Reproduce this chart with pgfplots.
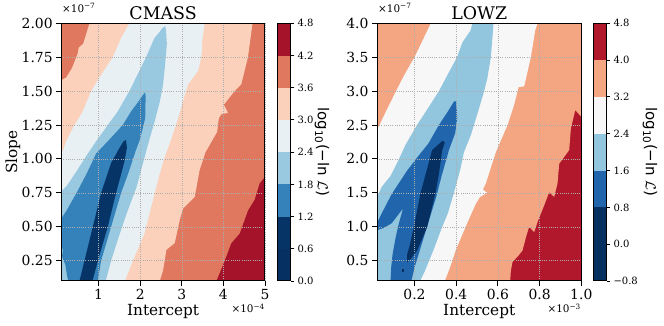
\documentclass[border=0pt]{standalone}
\usepackage{fontspec}
\setmainfont{DejaVu Serif}
\setsansfont{DejaVu Sans}
\usepackage{pgfplots}
\pgfplotsset{compat=1.18}

% CMASS bands (0.6 steps)
\definecolor{cA0}{RGB}{5,48,97}
\definecolor{cA1}{RGB}{7,52,103}
\definecolor{cA2}{RGB}{53,129,186}
\definecolor{cA3}{RGB}{153,201,224}
\definecolor{cA4}{RGB}{233,240,244}
\definecolor{cA5}{RGB}{251,209,188}
\definecolor{cA6}{RGB}{224,119,95}
\definecolor{cA7}{RGB}{164,19,41}
% LOWZ bands (0.8 steps)
\definecolor{cB0}{RGB}{5,48,97}
\definecolor{cB2}{RGB}{33,102,172}
\definecolor{cB3}{RGB}{146,197,222}
\definecolor{cB4}{RGB}{247,247,247}
\definecolor{cB5}{RGB}{244,165,130}
\definecolor{cB6}{RGB}{178,24,43}

\pgfplotsset{
  main/.style={
    scale only axis, axis on top,
    height=257.7pt,
    axis line style={line width=1pt},
    tick style={black, line width=0.9pt},
    tick align=outside, major tick length=5pt,
    tick pos=left,
    tick label style={font=\fontsize{13.9}{14}\selectfont},
    grid=major,
    grid style={black!32, line width=0.45pt, dash pattern=on 1pt off 1.2pt},
  },
  cbar/.style={
    scale only axis, axis on top,
    height=257.7pt,
    xmin=0, xmax=1, xtick=\empty,
    ytick pos=right, yticklabel pos=right,
    axis line style={line width=1pt},
    tick style={black, line width=0.9pt},
    tick align=outside, major tick length=3.5pt,
    tick label style={font=\fontsize{10}{10}\selectfont},
  },
  band/.style={fill=#1, draw=none},
}

\begin{document}
\begin{tikzpicture}
\useasboundingbox (0,0) rectangle (664pt,326pt);

% ---------------- CMASS ----------------
\begin{axis}[main, at={(61.2pt,45pt)}, anchor=south west, width=203.8pt,
  xmin=0.1, xmax=5, ymin=0.1, ymax=2,
  xtick={1,2,3,4,5}, xticklabels={1,2,3,4,5},
  ytick={0.25,0.5,0.75,1,1.25,1.5,1.75,2},
  yticklabels={0.25,0.50,0.75,1.00,1.25,1.50,1.75,2.00}]
\addplot[band=cA7] coordinates {(0.1,0.1) (5,0.1) (5,2) (0.1,2)} -- cycle;
\addplot[band=cA6] coordinates {(0.1,0.1) (3.83,0.1) (4.03,0.25) (4.19,0.38) (4.39,0.45)
  (4.59,0.62) (4.75,0.70) (4.87,0.82) (5,0.87) (5,2) (0.1,2)} -- cycle;
\addplot[band=cA5] coordinates {(0.1,0.1) (2.47,0.1) (2.55,0.18) (2.63,0.33) (2.83,0.38)
  (2.95,0.55) (3.03,0.635) (3.31,0.72) (3.43,0.92) (3.57,1.05) (3.85,1.2) (3.89,1.30)
  (3.95,1.33) (4.11,1.34) (4.01,1.40) (4.27,1.5) (4.43,1.55) (4.59,1.75) (4.70,2.0)
  (0.78,2.0) (0.63,1.85) (0.52,1.82) (0.50,1.78) (0.36,1.67) (0.22,1.6) (0.1,1.58)} -- cycle;
\addplot[band=cA4] coordinates {(0.1,0.1) (1.63,0.1) (1.85,0.27) (2.1,0.45) (2.35,0.75)
  (2.45,0.87) (2.57,1.0) (2.75,1.15) (2.91,1.30) (3.1,1.5) (3.15,1.55) (3.27,1.6)
  (3.39,1.65) (3.47,1.75) (3.5,1.89) (3.55,2.0) (1.74,2.0) (1.54,1.89) (1.34,1.75)
  (1.02,1.6) (0.82,1.5) (0.62,1.35) (0.42,1.25) (0.22,1.13) (0.14,1.06) (0.1,1.05)} -- cycle;
\addplot[band=cA3] coordinates {(0.1,0.1) (1.17,0.1) (1.3,0.25) (1.51,0.45) (1.7,0.62)
  (1.91,0.79) (2.05,0.95) (2.2,1.12) (2.35,1.28) (2.47,1.42) (2.55,1.55) (2.6,1.7)
  (2.64,1.85) (2.62,1.95) (2.6,1.98) (2.52,1.96) (2.45,1.93) (2.34,1.89) (2.14,1.75)
  (1.90,1.6) (1.74,1.5) (1.46,1.35) (1.22,1.25) (0.94,1.13) (0.7,1.02) (0.45,0.9)
  (0.23,0.8) (0.1,0.76)} -- cycle;
\addplot[band=cA2] coordinates {(0.27,0.1) (0.98,0.1) (1.06,0.25) (1.30,0.5) (1.54,0.75)
  (1.72,0.9) (1.88,1.05) (2.0,1.15) (2.12,1.3) (2.13,1.47) (2.11,1.49) (1.95,1.42)
  (1.78,1.35) (1.58,1.25) (1.22,1.13) (0.94,1.04) (0.71,0.89) (0.47,0.75) (0.23,0.62)
  (0.1,0.56) (0.1,0.36) (0.14,0.33) (0.12,0.28) (0.2,0.22) (0.24,0.14)} -- cycle;
\addplot[band=cA1] coordinates {(0.54,0.1) (0.85,0.1) (1.03,0.3) (1.22,0.5) (1.42,0.75)
  (1.62,0.98) (1.68,1.08) (1.66,1.14) (1.6,1.13) (1.5,1.08) (1.30,0.97) (1.06,0.75)
  (0.86,0.5) (0.70,0.3)} -- cycle;
\end{axis}

\begin{axis}[cbar, at={(277.7pt,45pt)}, anchor=south west, width=12.8pt,
  ymin=0, ymax=4.8,
  ytick={0,0.6,1.2,1.8,2.4,3.0,3.6,4.2,4.8},
  yticklabels={0.0,0.6,1.2,1.8,2.4,3.0,3.6,4.2,4.8}]
\addplot[band=cA0] coordinates {(0,0) (1,0) (1,0.6) (0,0.6)} -- cycle;
\addplot[band=cA1] coordinates {(0,0.6) (1,0.6) (1,1.2) (0,1.2)} -- cycle;
\addplot[band=cA2] coordinates {(0,1.2) (1,1.2) (1,1.8) (0,1.8)} -- cycle;
\addplot[band=cA3] coordinates {(0,1.8) (1,1.8) (1,2.4) (0,2.4)} -- cycle;
\addplot[band=cA4] coordinates {(0,2.4) (1,2.4) (1,3.0) (0,3.0)} -- cycle;
\addplot[band=cA5] coordinates {(0,3.0) (1,3.0) (1,3.6) (0,3.6)} -- cycle;
\addplot[band=cA6] coordinates {(0,3.6) (1,3.6) (1,4.2) (0,4.2)} -- cycle;
\addplot[band=cA7] coordinates {(0,4.2) (1,4.2) (1,4.8) (0,4.8)} -- cycle;
\end{axis}

% ---------------- LOWZ ----------------
\begin{axis}[main, at={(377pt,45pt)}, anchor=south west, width=204.3pt,
  xmin=0.02, xmax=1, ymin=0.2, ymax=4,
  xtick={0.2,0.4,0.6,0.8,1.0}, xticklabels={0.2,0.4,0.6,0.8,1.0},
  ytick={0.5,1,1.5,2,2.5,3,3.5,4},
  yticklabels={0.5,1.0,1.5,2.0,2.5,3.0,3.5,4.0}]
\addplot[band=cB6] coordinates {(0.02,0.2) (1,0.2) (1,4) (0.02,4)} -- cycle;
\addplot[band=cB5] coordinates {(0.02,0.2) (0.659,0.2) (0.662,0.35) (0.67,0.48) (0.70,0.58)
  (0.718,0.65) (0.735,0.85) (0.75,1.0) (0.774,0.92) (0.79,1.07) (0.82,1.3) (0.846,1.51)
  (0.87,1.44) (0.886,1.64) (0.894,1.93) (0.942,2.13) (0.95,2.45) (0.971,2.72) (1.0,2.62)
  (1.0,4.0) (0.02,4.0)} -- cycle;
\addplot[band=cB4] coordinates {(0.02,0.2) (0.345,0.2) (0.37,0.4) (0.397,0.65) (0.445,1.0)
  (0.494,1.34) (0.514,1.44) (0.548,1.50) (0.528,1.55) (0.542,1.64) (0.59,2.1) (0.646,2.5)
  (0.678,2.8) (0.699,3.06) (0.726,3.07) (0.758,3.5) (0.779,3.9) (0.79,4.0) (0.278,4.0)
  (0.205,3.53) (0.148,3.22) (0.1,2.93) (0.06,2.68) (0.035,2.52) (0.02,2.43)} -- cycle;
\addplot[band=cB3] coordinates {(0.02,0.2) (0.227,0.2) (0.25,0.35) (0.27,0.5) (0.29,0.65)
  (0.333,1.0) (0.36,1.2) (0.389,1.5) (0.42,1.85) (0.437,2.1) (0.47,2.35) (0.505,2.7)
  (0.534,3.0) (0.55,3.2) (0.566,3.5) (0.574,3.8) (0.579,4.0) (0.477,4.0) (0.47,3.9)
  (0.43,3.72) (0.404,3.5) (0.36,3.25) (0.317,3.0) (0.265,2.75) (0.212,2.5) (0.157,2.21)
  (0.123,1.98) (0.085,1.75) (0.043,1.59) (0.02,1.44)} -- cycle;
\addplot[band=cB2] coordinates {(0.085,0.2) (0.185,0.2) (0.2,0.4) (0.225,0.65) (0.255,0.95)
  (0.27,1.1) (0.305,1.45) (0.33,1.75) (0.365,2.13) (0.395,2.38) (0.405,2.6) (0.40,2.85)
  (0.39,2.85) (0.36,2.7) (0.317,2.5) (0.267,2.23) (0.215,2.03) (0.165,1.83) (0.12,1.62)
  (0.09,1.48) (0.06,1.3) (0.035,1.15) (0.02,1.05) (0.02,0.95) (0.05,0.98) (0.09,1.05)
  (0.145,1.27) (0.125,1.05) (0.11,0.85) (0.095,0.6) (0.088,0.4)} -- cycle;
\addplot[band=cB0] coordinates {(0.164,0.48) (0.18,0.52) (0.213,0.65) (0.261,1.0) (0.301,1.5)
  (0.318,1.8) (0.333,2.13) (0.345,2.24) (0.335,2.27) (0.31,2.2) (0.284,2.13) (0.26,1.85)
  (0.229,1.5) (0.197,1.0) (0.175,0.7) (0.165,0.6)} -- cycle;
\addplot[band=cB0] coordinates {(0.14,0.34) (0.148,0.34) (0.148,0.38) (0.14,0.38)} -- cycle;
\end{axis}

\begin{axis}[cbar, at={(593.3pt,45pt)}, anchor=south west, width=13.2pt,
  ymin=-0.8, ymax=4.8,
  ytick={-0.8,0,0.8,1.6,2.4,3.2,4.0,4.8},
  yticklabels={−0.8,0.0,0.8,1.6,2.4,3.2,4.0,4.8}]
\addplot[band=cB0] coordinates {(0,-0.8) (1,-0.8) (1,0) (0,0)} -- cycle;
\addplot[band=cB0] coordinates {(0,0) (1,0) (1,0.8) (0,0.8)} -- cycle;
\addplot[band=cB2] coordinates {(0,0.8) (1,0.8) (1,1.6) (0,1.6)} -- cycle;
\addplot[band=cB3] coordinates {(0,1.6) (1,1.6) (1,2.4) (0,2.4)} -- cycle;
\addplot[band=cB4] coordinates {(0,2.4) (1,2.4) (1,3.2) (0,3.2)} -- cycle;
\addplot[band=cB5] coordinates {(0,3.2) (1,3.2) (1,4.0) (0,4.0)} -- cycle;
\addplot[band=cB6] coordinates {(0,4.0) (1,4.0) (1,4.8) (0,4.8)} -- cycle;
\end{axis}

% ---------------- texts ----------------
\node[font=\fontsize{17.4}{18}\selectfont, inner sep=0] at (163.1pt,313.3pt) {CMASS};
\node[font=\fontsize{17.4}{18}\selectfont, inner sep=0] at (479.2pt,313.3pt) {LOWZ};
\node[font=\fontsize{15.3}{16}\selectfont, inner sep=0, anchor=base] at (163.1pt,10pt) {Intercept};
\node[font=\fontsize{15.3}{16}\selectfont, inner sep=0, anchor=base] at (479.2pt,10pt) {Intercept};
\node[font=\fontsize{15.3}{16}\selectfont, inner sep=0, anchor=base, rotate=90] at (17pt,174pt) {Slope};
\node[font=\fontsize{15}{16}\selectfont\sffamily, inner sep=0, rotate=-90] at (322pt,174pt) {log\textsubscript{10}(−ln $\mathcal{L}$)};
\node[font=\fontsize{15}{16}\selectfont\sffamily, inner sep=0, rotate=-90] at (650pt,174pt) {log\textsubscript{10}(−ln $\mathcal{L}$)};
\node[font=\fontsize{10.4}{11}\selectfont, inner sep=0, anchor=base west] at (62pt,313.5pt) {×10\textsuperscript{−7}};
\node[font=\fontsize{10.4}{11}\selectfont, inner sep=0, anchor=base west] at (378pt,313.5pt) {×10\textsuperscript{−7}};
\node[font=\fontsize{10.4}{11}\selectfont, inner sep=0, anchor=base east] at (265pt,13pt) {×10\textsuperscript{−4}};
\node[font=\fontsize{10.4}{11}\selectfont, inner sep=0, anchor=base east] at (581pt,13pt) {×10\textsuperscript{−3}};
\end{tikzpicture}
\end{document}
